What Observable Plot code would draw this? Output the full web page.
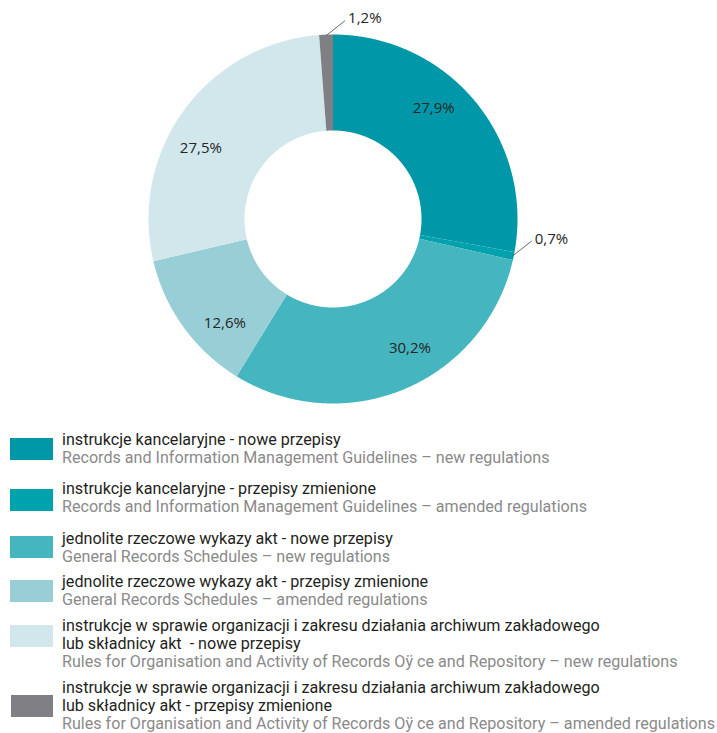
<!DOCTYPE html>
<html><head><meta charset="utf-8">
<script src="https://cdn.jsdelivr.net/npm/d3@7"></script>
<script src="https://cdn.jsdelivr.net/npm/@observablehq/plot@0.6"></script>
<style>
body{margin:0;background:#fff;font-family:Roboto,"Open Sans",sans-serif;}
#root{position:relative;width:717px;height:733px;overflow:hidden;}
#chart{position:absolute;left:0;top:0;}
.sw{position:absolute;}
.ln{position:absolute;left:62px;white-space:pre;font-size:16px;line-height:18px;transform-origin:0 50%;}
.pl{color:#231f20;}
.en{color:#8a8a8a;}
</style>
</head><body>
<div id="root"><div id="chart"></div></div>
<script>
// ---- data ----
const categoriesPl = [
  ["instrukcje kancelaryjne - nowe przepisy"],
  ["instrukcje kancelaryjne - przepisy zmienione"],
  ["jednolite rzeczowe wykazy akt - nowe przepisy"],
  ["jednolite rzeczowe wykazy akt - przepisy zmienione"],
  ["instrukcje w sprawie organizacji i zakresu działania archiwum zakładowego", "lub składnicy akt  - nowe przepisy"],
  ["instrukcje w sprawie organizacji i zakresu działania archiwum zakładowego", "lub składnicy akt - przepisy zmienione"]
];
const categoriesEn = [
  "Records and Information Management Guidelines – new regulations",
  "Records and Information Management Guidelines – amended regulations",
  "General Records Schedules – new regulations",
  "General Records Schedules – amended regulations",
  "Rules for Organisation and Activity of Records Oÿ ce and Repository – new regulations",
  "Rules for Organisation and Activity of Records Oÿ ce and Repository – amended regulations"
];
const values = [27.9, 0.7, 30.2, 12.6, 27.5, 1.2];
const valueLabels = ["27,9%", "0,7%", "30,2%", "12,6%", "27,5%", "1,2%"];
const colors = ["#0098a8", "#00a2ae", "#45b5c0", "#98ced6", "#d1e7ec", "#7f7f84"];

// ---- layout ----
const W = 717, H = 420;
const cx = 332.5, cy = 218.5, R = 184.5, r0 = 88.5;
const labelR = 150, labelShift = -8 * Math.PI / 180;
const legendSwatchTop = [438, 489, 536, 580, 625, 695];
const legendFirstBaseline = [446, 495, 545, 588, 632, 694];
const lineStep = 17.8;

const keys = categoriesEn;
const rows = keys.map((k, i) => ({key: k, value: values[i], label: valueLabels[i]}));
const arcs = d3.pie().sort(null).value(d => d.value)(rows);
const px = (a, rad) => cx + rad * Math.sin(a);
const py = (a, rad) => cy - rad * Math.cos(a);

const poly = [];
arcs.forEach(a => {
  const n = Math.max(2, Math.ceil((a.endAngle - a.startAngle) / 0.005));
  for (let j = 0; j <= n; j++) {
    const t = a.startAngle + (a.endAngle - a.startAngle) * j / n;
    poly.push({key: a.data.key, x: px(t, R), y: py(t, R)});
  }
  for (let j = n; j >= 0; j--) {
    const t = a.startAngle + (a.endAngle - a.startAngle) * j / n;
    poly.push({key: a.data.key, x: px(t, r0), y: py(t, r0)});
  }
});

const mid = a => (a.startAngle + a.endAngle) / 2;
const big = arcs.filter(a => a.data.value >= 5).map(a => ({
  label: a.data.label, x: px(mid(a) + labelShift, labelR), y: py(mid(a) + labelShift, labelR)
}));
const small = arcs.filter(a => a.data.value < 5).map(a => {
  const x1 = px(mid(a), R - 1), y1 = py(mid(a), R - 1);
  return {label: a.data.label, x1, y1, x2: x1 + 19, y2: y1 - 15};
});

const plot = Plot.plot({
  width: W, height: H,
  margin: 0,
  x: {domain: [0, W], range: [0, W], axis: null},
  y: {domain: [0, H], range: [0, H], axis: null},
  color: {domain: keys, range: colors},
  style: {background: "white", fontFamily: "'Open Sans', sans-serif"},
  marks: [
    Plot.line(poly, {x: "x", y: "y", z: "key", fill: "key", stroke: "none", curve: "linear-closed"}),
    Plot.text(big, {x: "x", y: "y", text: "label", fontSize: 15, fill: "#262626"}),
    Plot.link(small, {x1: "x1", y1: "y1", x2: "x2", y2: "y2", stroke: "#5a5a5a", strokeWidth: 0.9}),
    Plot.text(small, {x: "x2", y: "y2", text: "label", dx: 3, dy: -2, textAnchor: "start", fontSize: 15, fill: "#262626"})
  ]
});
document.getElementById("chart").appendChild(plot);

// ---- legend ----
const root = document.getElementById("root");
const spans = [];
keys.forEach((k, i) => {
  const sw = document.createElement("div");
  sw.className = "sw";
  sw.style.left = (i === 5 ? 11 : 10) + "px";
  sw.style.width = (i === 5 ? 42 : 43) + "px";
  sw.style.top = legendSwatchTop[i] + "px";
  sw.style.height = "22px";
  sw.style.background = colors[i];
  root.appendChild(sw);
  const lines = categoriesPl[i].map(t => [t, "pl"]).concat([[categoriesEn[i], "en"]]);
  lines.forEach(([t, cls], j) => {
    const s = document.createElement("div");
    s.className = "ln " + cls;
    s.textContent = t;
    s.style.top = (legendFirstBaseline[i] + j * lineStep - 14.6) + "px";
    root.appendChild(s);
    spans.push(s);
  });
});
const ref = spans[spans.length - 1];
const k = 653 / ref.getBoundingClientRect().width;
spans.forEach(s => s.style.transform = `scaleX(${k})`);
</script>
</body></html>
